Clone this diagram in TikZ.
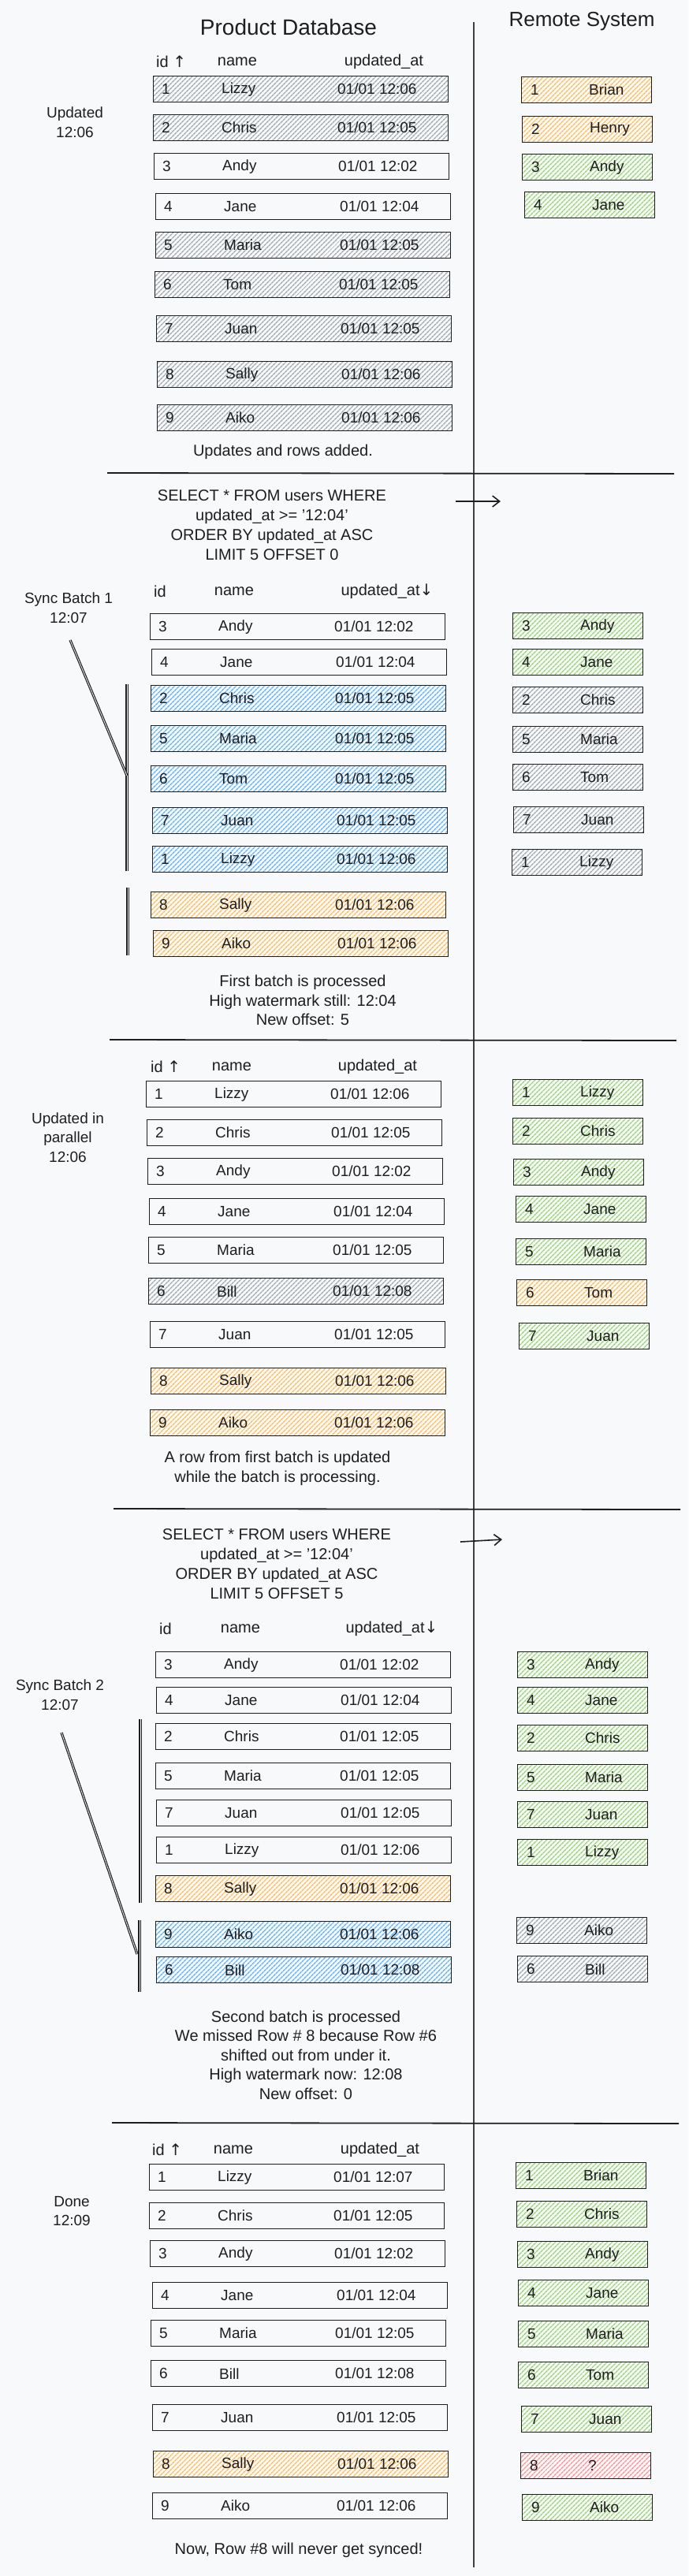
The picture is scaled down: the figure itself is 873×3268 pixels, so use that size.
\documentclass[tikz,border=0pt]{standalone}
\usepackage{fontspec}
\setmainfont{Liberation Sans}
\newfontfamily\arrowfont{DejaVu Sans}
\usetikzlibrary{patterns.meta,arrows.meta}
\definecolor{bgcol}{HTML}{F8F9FA}
\definecolor{inkcol}{HTML}{1E1E1E}
\definecolor{hgraycol}{HTML}{A0A7AE}
\definecolor{hbluecol}{HTML}{5FB3F5}
\definecolor{horangecol}{HTML}{FFBC55}
\definecolor{hgreencol}{HTML}{96D570}
\definecolor{hredcol}{HTML}{FF8F8F}
\newcommand{\dbr}[6]{%
  \node[rowbox,#3,minimum width=374pt,anchor=north west] (#1) at #2 {};
  \node[cell] (#1-i) at ([xshift=11pt]#1.west) {#4};
  \node[cell] (#1-n) at ([xshift=87pt]#1.west) {#5};
  \node[cell] (#1-t) at ([xshift=234pt]#1.west) {#6};
}
\newcommand{\rmr}[5]{%
  \node[rowbox,#3,minimum width=165pt,anchor=north west] (#1) at #2 {};
  \node[cell] (#1-i) at ([xshift=12pt]#1.west) {#4};
  \node[cell] (#1-n) at ([xshift=86pt]#1.west) {#5};
}
\begin{document}
\begin{tikzpicture}[x=1pt,y=-1pt,
  rowbox/.style={draw=inkcol,line width=1.3pt,minimum height=33pt,inner sep=0pt},
  plain/.style={},
  hatch/.style={pattern={Lines[angle=45,distance=4pt,line width=1.4pt]},pattern color=#1},
  hgray/.style={hatch=hgraycol},
  hblue/.style={hatch=hbluecol},
  horange/.style={hatch=horangecol},
  hgreen/.style={hatch=hgreencol},
  hred/.style={hatch=hredcol},
  cell/.style={anchor=west,inner sep=0pt,text=inkcol,font=\fontsize{19}{22}\selectfont},
  hdr/.style={inner sep=0pt,text=inkcol,font=\fontsize{20}{24}\selectfont},
  lbl/.style={inner sep=0pt,text=inkcol,align=center,font=\fontsize{19}{24.5}\selectfont},
  captxt/.style={inner sep=0pt,text=inkcol,align=center,font=\fontsize{20}{24.5}\selectfont},
  sql/.style={inner sep=0pt,text=inkcol,align=center,font=\fontsize{20}{25}\selectfont},
  ttl/.style={inner sep=0pt,text=inkcol,font=\fontsize{28}{32}\selectfont},
  sepline/.style={draw=inkcol,line width=1.8pt},
  divider/.style={draw=inkcol!85,line width=1.3pt},
  brk/.style={draw=inkcol,line width=1.2pt,double=bgcol,double distance=0.8pt},
  flow/.style={draw=inkcol,line width=1.6pt,-{Straight Barb[length=9pt,width=14pt,line width=1.6pt]}}
]
\fill[bgcol] (0,0) rectangle (873,3268);
\useasboundingbox (0,0) rectangle (873,3268);

% titles and divider
\node[ttl] (tdb) at (366,34) {Product Database};
\node[ttl,font=\fontsize{26}{30}\selectfont] (trs) at (738,27) {Remote System};
\coordinate (dvt) at (601,28);
\coordinate (dvb) at (601,3257);
\draw[divider] (dvt) -- (dvb);

% separators
\coordinate (sp1a) at (136,600); \coordinate (sp1b) at (855,601);
\coordinate (sp2a) at (139,1319); \coordinate (sp2b) at (858,1320);
\coordinate (sp3a) at (144,1914); \coordinate (sp3b) at (863,1915);
\coordinate (sp4a) at (142,2693); \coordinate (sp4b) at (861,2694);
\draw[sepline] (sp1a) -- (sp1b);
\draw[sepline] (sp2a) -- (sp2b);
\draw[sepline] (sp3a) -- (sp3b);
\draw[sepline] (sp4a) -- (sp4b);

% ===== Section 1 =====
\node[lbl] (l1) at (95,155) {Updated\\12:06};
\node[hdr,anchor=west] (h1i) at (198,78) {id {\arrowfont↑}};
\node[hdr] (h1n) at (301,78) {name};
\node[hdr] (h1t) at (487,78) {updated\_at};
\dbr{s1a}{(194,96)}{hgray}{1}{Lizzy}{01/01 12:06}
\dbr{s1b}{(194,145)}{hgray}{2}{Chris}{01/01 12:05}
\dbr{s1c}{(195,194)}{plain}{3}{Andy}{01/01 12:02}
\dbr{s1d}{(197,245)}{plain}{4}{Jane}{01/01 12:04}
\dbr{s1e}{(197,294)}{hgray}{5}{Maria}{01/01 12:05}
\dbr{s1f}{(196,344)}{hgray}{6}{Tom}{01/01 12:05}
\dbr{s1g}{(198,400)}{hgray}{7}{Juan}{01/01 12:05}
\dbr{s1h}{(199,458)}{hgray}{8}{Sally}{01/01 12:06}
\dbr{s1j}{(199,513)}{hgray}{9}{Aiko}{01/01 12:06}
\rmr{s1p}{(661,97)}{horange}{1}{Brian}
\rmr{s1q}{(662,147)}{horange}{2}{Henry}
\rmr{s1r}{(662,195)}{hgreen}{3}{Andy}
\rmr{s1s}{(665,243)}{hgreen}{4}{Jane}
\node[captxt] (c1) at (359,573) {Updates and rows added.};

% ===== Section 2 =====
\node[sql] (q1) at (345,666) {SELECT * FROM users WHERE\\updated\_at >= '12:04'\\ORDER BY updated\_at ASC\\LIMIT 5 OFFSET 0};
\coordinate (a1s) at (578,636); \coordinate (a1e) at (635,636);
\draw[flow] (a1s) -- (a1e);
\node[lbl] (l2) at (87,771) {Sync Batch 1\\12:07};
\node[hdr,anchor=west] (h2i) at (195,750) {id};
\node[hdr] (h2n) at (297,750) {name};
\node[hdr] (h2t) at (491,750) {updated\_at{\arrowfont↓}};
\dbr{s2a}{(190,778)}{plain}{3}{Andy}{01/01 12:02}
\dbr{s2b}{(192,823)}{plain}{4}{Jane}{01/01 12:04}
\dbr{s2c}{(191,869)}{hblue}{2}{Chris}{01/01 12:05}
\dbr{s2d}{(191,920)}{hblue}{5}{Maria}{01/01 12:05}
\dbr{s2e}{(191,971)}{hblue}{6}{Tom}{01/01 12:05}
\dbr{s2f}{(193,1024)}{hblue}{7}{Juan}{01/01 12:05}
\dbr{s2g}{(193,1073)}{hblue}{1}{Lizzy}{01/01 12:06}
\dbr{s2h}{(191,1131)}{horange}{8}{Sally}{01/01 12:06}
\dbr{s2j}{(194,1180)}{horange}{9}{Aiko}{01/01 12:06}
\rmr{s2p}{(650,777)}{hgreen}{3}{Andy}
\rmr{s2q}{(650,823)}{hgreen}{4}{Jane}
\rmr{s2r}{(650,871)}{hgray}{2}{Chris}
\rmr{s2s}{(650,921)}{hgray}{5}{Maria}
\rmr{s2t}{(650,969)}{hgray}{6}{Tom}
\rmr{s2u}{(651,1023)}{hgray}{7}{Juan}
\rmr{s2v}{(649,1077)}{hgray}{1}{Lizzy}
\coordinate (b1t) at (161,868); \coordinate (b1b) at (161,1105);
\coordinate (b2t) at (162,1126); \coordinate (b2b) at (162,1212);
\coordinate (d1s) at (89,812); \coordinate (d1e) at (161,984);
\draw[brk] (b1t) -- (b1b);
\draw[brk] (b2t) -- (b2b);
\draw[brk] (d1s) -- (d1e);
\node[captxt] (c2) at (384,1269) {First batch is processed\\High watermark still: 12:04\\New offset: 5};

% ===== Section 3 =====
\node[lbl] (l3) at (86,1443) {Updated in\\parallel\\12:06};
\node[hdr,anchor=west] (h3i) at (191,1353) {id {\arrowfont↑}};
\node[hdr] (h3n) at (294,1353) {name};
\node[hdr] (h3t) at (479,1353) {updated\_at};
\dbr{s3a}{(185,1371)}{plain}{1}{Lizzy}{01/01 12:06}
\dbr{s3b}{(186,1420)}{plain}{2}{Chris}{01/01 12:05}
\dbr{s3c}{(187,1469)}{plain}{3}{Andy}{01/01 12:02}
\dbr{s3d}{(189,1520)}{plain}{4}{Jane}{01/01 12:04}
\dbr{s3e}{(188,1569)}{plain}{5}{Maria}{01/01 12:05}
\dbr{s3f}{(188,1621)}{hgray}{6}{Bill}{01/01 12:08}
\dbr{s3g}{(190,1676)}{plain}{7}{Juan}{01/01 12:05}
\dbr{s3h}{(191,1735)}{horange}{8}{Sally}{01/01 12:06}
\dbr{s3j}{(190,1788)}{horange}{9}{Aiko}{01/01 12:06}
\rmr{s3p}{(650,1369)}{hgreen}{1}{Lizzy}
\rmr{s3q}{(650,1418)}{hgreen}{2}{Chris}
\rmr{s3r}{(651,1470)}{hgreen}{3}{Andy}
\rmr{s3s}{(654,1517)}{hgreen}{4}{Jane}
\rmr{s3t}{(654,1571)}{hgreen}{5}{Maria}
\rmr{s3u}{(655,1623)}{horange}{6}{Tom}
\rmr{s3v}{(658,1678)}{hgreen}{7}{Juan}
\node[captxt] (c3) at (352,1863) {A row from first batch is updated\\while the batch is processing.};

% ===== Section 4 =====
\node[sql] (q2) at (351,1984) {SELECT * FROM users WHERE\\updated\_at >= '12:04'\\ORDER BY updated\_at ASC\\LIMIT 5 OFFSET 5};
\coordinate (a2s) at (584,1956); \coordinate (a2e) at (637,1953);
\draw[flow] (a2s) -- (a2e);
\node[lbl] (l4) at (76,2150) {Sync Batch 2\\12:07};
\node[hdr,anchor=west] (h4i) at (202,2066) {id};
\node[hdr] (h4n) at (305,2066) {name};
\node[hdr] (h4t) at (497,2066) {updated\_at{\arrowfont↓}};
\dbr{s4a}{(197,2095)}{plain}{3}{Andy}{01/01 12:02}
\dbr{s4b}{(198,2140)}{plain}{4}{Jane}{01/01 12:04}
\dbr{s4c}{(197,2186)}{plain}{2}{Chris}{01/01 12:05}
\dbr{s4d}{(197,2236)}{plain}{5}{Maria}{01/01 12:05}
\dbr{s4e}{(198,2283)}{plain}{7}{Juan}{01/01 12:05}
\dbr{s4f}{(198,2330)}{plain}{1}{Lizzy}{01/01 12:06}
\dbr{s4g}{(197,2379)}{horange}{8}{Sally}{01/01 12:06}
\dbr{s4h}{(197,2437)}{hblue}{9}{Aiko}{01/01 12:06}
\dbr{s4j}{(198,2482)}{hblue}{6}{Bill}{01/01 12:08}
\rmr{s4p}{(656,2095)}{hgreen}{3}{Andy}
\rmr{s4q}{(656,2140)}{hgreen}{4}{Jane}
\rmr{s4r}{(656,2188)}{hgreen}{2}{Chris}
\rmr{s4s}{(656,2238)}{hgreen}{5}{Maria}
\rmr{s4t}{(656,2285)}{hgreen}{7}{Juan}
\rmr{s4u}{(656,2333)}{hgreen}{1}{Lizzy}
\rmr{s4v}{(655,2432)}{hgray}{9}{Aiko}
\rmr{s4w}{(656,2481)}{hgray}{6}{Bill}
\coordinate (b3t) at (178,2181); \coordinate (b3b) at (178,2414);
\coordinate (b4t) at (177,2436); \coordinate (b4b) at (177,2527);
\coordinate (d2s) at (78,2198); \coordinate (d2e) at (174,2479);
\draw[brk] (b3t) -- (b3b);
\draw[brk] (b4t) -- (b4b);
\draw[brk] (d2s) -- (d2e);
\node[captxt] (c4) at (388,2607) {Second batch is processed\\We missed Row \# 8 because Row \#6\\shifted out from under it.\\High watermark now: 12:08\\New offset: 0};

% ===== Section 5 =====
\node[lbl] (l5) at (91,2805) {Done\\12:09};
\node[hdr,anchor=west] (h5i) at (193,2727) {id {\arrowfont↑}};
\node[hdr] (h5n) at (296,2727) {name};
\node[hdr] (h5t) at (482,2727) {updated\_at};
\dbr{s5a}{(189,2745)}{plain}{1}{Lizzy}{01/01 12:07}
\dbr{s5b}{(189,2794)}{plain}{2}{Chris}{01/01 12:05}
\dbr{s5c}{(190,2842)}{plain}{3}{Andy}{01/01 12:02}
\dbr{s5d}{(193,2895)}{plain}{4}{Jane}{01/01 12:04}
\dbr{s5e}{(191,2943)}{plain}{5}{Maria}{01/01 12:05}
\dbr{s5f}{(191,2994)}{plain}{6}{Bill}{01/01 12:08}
\dbr{s5g}{(193,3050)}{plain}{7}{Juan}{01/01 12:05}
\dbr{s5h}{(194,3109)}{horange}{8}{Sally}{01/01 12:06}
\dbr{s5j}{(193,3162)}{plain}{9}{Aiko}{01/01 12:06}
\rmr{s5p}{(654,2743)}{hgreen}{1}{Brian}
\rmr{s5q}{(655,2792)}{hgreen}{2}{Chris}
\rmr{s5r}{(656,2843)}{hgreen}{3}{Andy}
\rmr{s5s}{(657,2892)}{hgreen}{4}{Jane}
\rmr{s5t}{(657,2944)}{hgreen}{5}{Maria}
\rmr{s5u}{(657,2996)}{hgreen}{6}{Tom}
\rmr{s5v}{(661,3052)}{hgreen}{7}{Juan}
\rmr{s5w}{(660,3111)}{hred}{8}{?}
\rmr{s5x}{(662,3164)}{hgreen}{9}{Aiko}
\node[captxt] (c5) at (379,3235) {Now, Row \#8 will never get synced!};
\end{tikzpicture}
\end{document}
